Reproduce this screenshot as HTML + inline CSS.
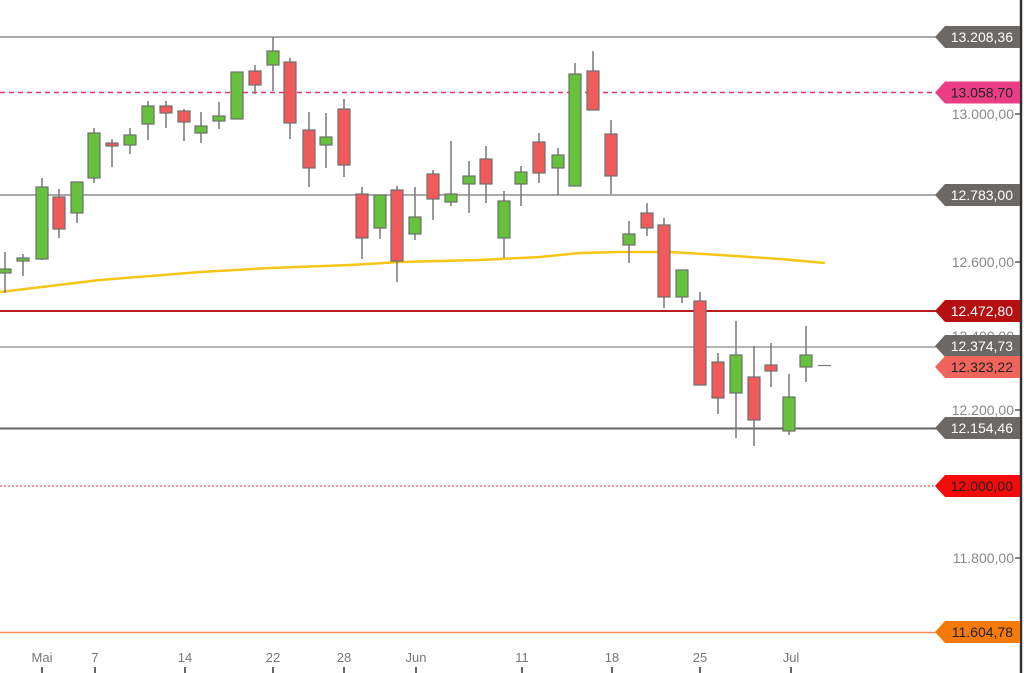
<!DOCTYPE html>
<html><head><meta charset="utf-8"><style>
html,body{margin:0;padding:0;background:#fff;width:1024px;height:673px;overflow:hidden}
svg{display:block}
text{font-family:"Liberation Sans",sans-serif}
</style></head><body>
<svg id="c" width="1024" height="673" xmlns="http://www.w3.org/2000/svg">
<rect width="1024" height="673" fill="#fff"/>
<!-- horizontal lines -->
<line x1="0" y1="37" x2="940" y2="37" stroke="#777" stroke-width="1.3"/>
<line x1="0" y1="92.5" x2="940" y2="92.5" stroke="#e8316e" stroke-width="1.6" stroke-dasharray="5,4"/>
<line x1="0" y1="195" x2="940" y2="195" stroke="#777" stroke-width="1.3"/>
<line x1="0" y1="311" x2="940" y2="311" stroke="#b81c1c" stroke-width="2"/>
<line x1="0" y1="347" x2="940" y2="347" stroke="#888" stroke-width="1.2"/>
<line x1="0" y1="428.5" x2="940" y2="428.5" stroke="#666" stroke-width="2"/>
<line x1="0" y1="486" x2="940" y2="486" stroke="#f03030" stroke-width="1" stroke-dasharray="2,2"/>
<line x1="0" y1="632.5" x2="940" y2="632.5" stroke="#f58a50" stroke-width="1.6"/>
<!-- MA -->
<polyline fill="none" stroke="#f5c518" stroke-width="2.5" points="0,292 100,280 200,272 270,268 350,265 400,262 480,260 540,257 580,253 620,252 670,252 720,255 780,259 825,263"/>
<g id="candles"></g>
<line x1="818" y1="365.5" x2="831" y2="365.5" stroke="#777" stroke-width="1.2"/>
<!-- axis -->
<line x1="1021" y1="0" x2="1021" y2="673" stroke="#333" stroke-width="2.5"/>
<g font-size="14" fill="#888" text-anchor="end">
<text x="1014" y="119">13.000,00</text>
<text x="1014" y="200">12.800,00</text>
<text x="1014" y="267">12.600,00</text>
<text x="1014" y="341">12.400,00</text>
<text x="1014" y="415">12.200,00</text>
<text x="1014" y="563">11.800,00</text>
</g>
<g stroke="#333" stroke-width="1.2">
<line x1="1015" y1="114" x2="1021" y2="114"/><line x1="1015" y1="262" x2="1021" y2="262"/>
<line x1="1015" y1="410" x2="1021" y2="410"/><line x1="1015" y1="558" x2="1021" y2="558"/>
</g>
<g id="tags" font-size="14"></g>
<!-- x axis -->
<g font-size="13" fill="#777" text-anchor="middle" id="xa"></g>
</svg>
<script>
var C=[[5,269,273,252,293,1],[23,258,261,254,276,1],[42,187,259,178,260,1],[59,197,229,189,238,0],[77,182,213,182,223,1],[94,133,178,128,183,1],[112,143,146,139,167,0],[130,135,145,128,154,1],[148,106,124,101,140,1],[166,106,113,101,128,0],[184,111,122,109,141,0],[201,126,133,112,143,1],[219,116,121,102,129,1],[237,72,119,72,119,1],[255,71,85,65,94,0],[273,51,65,37,91,1],[290,62,123,58,139,0],[309,130,168,112,187,0],[326,137,145,113,168,1],[344,109,165,99,177,0],[362,194,238,187,259,0],[380,195,228,195,239,1],[397,190,261,186,282,0],[415,217,234,187,240,1],[433,174,199,170,220,0],[451,194,202,141,206,1],[469,176,184,161,213,1],[486,159,184,146,203,0],[504,201,238,191,258,1],[521,172,184,166,206,1],[539,142,173,133,183,0],[558,155,168,148,195,1],[575,74,186,63,186,1],[593,71,110,51,110,0],[611,134,176,120,194,0],[629,234,245,221,263,1],[647,213,228,203,236,0],[664,225,297,218,308,0],[682,270,297,270,303,1],[700,301,385,292,385,0],[718,362,398,353,414,0],[736,355,393,321,438,1],[754,377,420,346,446,0],[771,365,371,343,387,0],[789,397,431,374,435,1],[806,355,367,326,382,1]];
var s='';C.forEach(function(c){s+='<line x1="'+c[0]+'" y1="'+c[3]+'" x2="'+c[0]+'" y2="'+c[4]+'" stroke="#777" stroke-width="1.5"/>';
s+='<rect x="'+(c[0]-6)+'" y="'+c[1]+'" width="12" height="'+Math.max(2,c[2]-c[1])+'" fill="'+(c[5]?'#66c23a':'#f05a5a')+'" stroke="#6e6e6e" stroke-width="1.2"/>';});
document.getElementById('candles').innerHTML=s;
var T=[[37,'13.208,36','#6b6866','#fff'],[92.5,'13.058,70','#ea3d83','#222'],[195,'12.783,00','#6b6866','#fff'],[311,'12.472,80','#b50f0f','#fff'],[346,'12.374,73','#6b6866','#fff'],[367,'12.323,22','#f0645c','#222'],[428,'12.154,46','#6b6866','#fff'],[486,'12.000,00','#f40a0a','#222'],[632,'11.604,78','#f57a0a','#222']];
var t='';T.forEach(function(a){var y=a[0];t+='<path d="M935,'+y+' L945,'+(y-11)+' L1020,'+(y-11)+' L1020,'+(y+11)+' L945,'+(y+11)+' Z" fill="'+a[2]+'"/><text x="1013" y="'+(y+5)+'" text-anchor="end" fill="'+a[3]+'">'+a[1]+'</text>';});
document.getElementById('tags').innerHTML=t;
var X=[[42,'Mai'],[95,'7'],[185,'14'],[273,'22'],[344,'28'],[416,'Jun'],[522,'11'],[612,'18'],[700,'25'],[791,'Jul']];
var x='';X.forEach(function(a){x+='<text x="'+a[0]+'" y="662">'+a[1]+'</text><line x1="'+a[0]+'" y1="667" x2="'+a[0]+'" y2="673" stroke="#333" stroke-width="1.5"/>';});
document.getElementById('xa').innerHTML=x;
</script>
</body></html>
